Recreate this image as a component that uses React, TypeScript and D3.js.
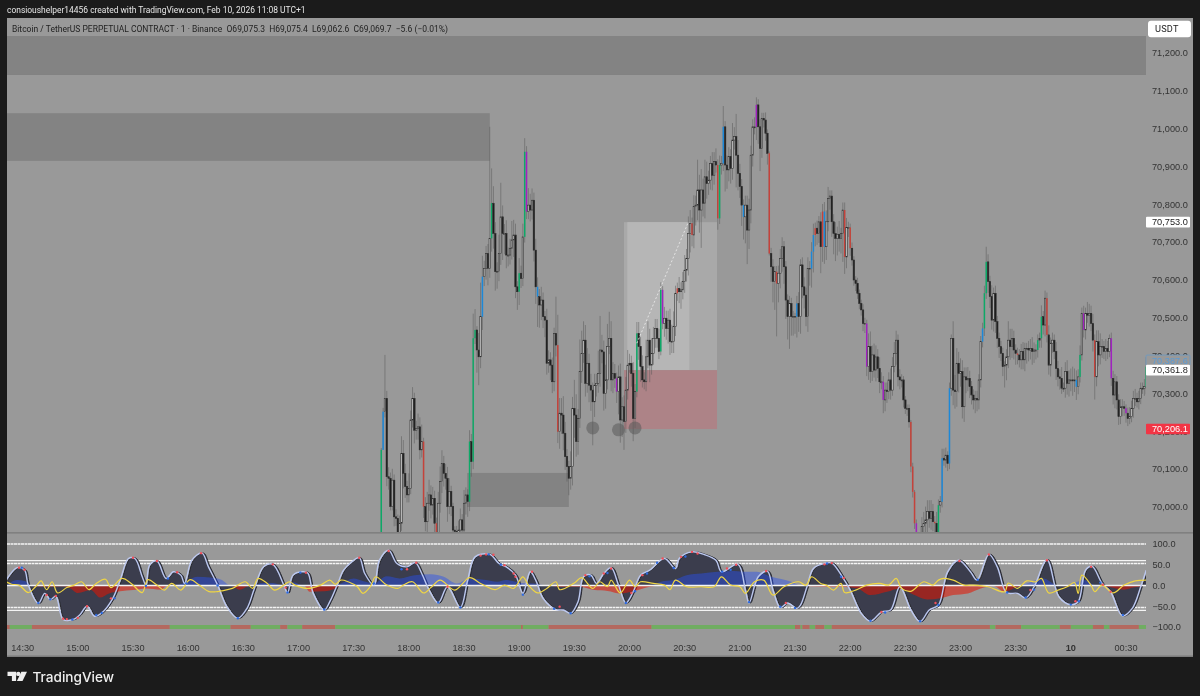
import { area, curveCatmullRom, curveMonotoneX, format, line, scaleLinear } from "d3";

// minutes since 14:30 for the time axis
const timeLabels = ["14:30", "15:00", "15:30", "16:00", "16:30", "17:00", "17:30", "18:00", "18:30", "19:00", "19:30", "20:00", "20:30", "21:00", "21:30", "22:00", "22:30", "23:00", "23:30", "10", "00:30"];
const priceTicks = [70000, 70100, 70200, 70300, 70400, 70500, 70600, 70700, 70800, 70900, 71000, 71100, 71200];
const oscTicks = [100, 50, 0, -50, -100];

const firstCandleTime = 195;
const firstOpen = 69700;
const closes = [
  70151, 70252, 70287, 70080, 70076, 70001, 70071, 69974, 69970, 69930,
  69957, 70142, 70089, 70054, 70032, 70049, 70230, 70287, 70203, 70208,
  70212, 70151, 70173, 70001, 69961, 70010, 70032, 70005, 70023, 69957,
  69930, 70010, 70067, 70115, 70089, 70076, 70001, 70041, 70001, 69939,
  69935, 69930, 69939, 69966, 69939, 70010, 70032, 70014, 70173, 70120,
  70446, 70468, 70415, 70397, 70503, 70609, 70631, 70670, 70631, 70710,
  70803, 70723, 70622, 70622, 70670, 70767, 70723, 70723, 70666, 70666,
  70684, 70706, 70719, 70582, 70569, 70618, 70604, 70714, 70939, 70781,
  70798, 70785, 70811, 70679, 70582, 70556, 70534, 70547, 70503, 70494,
  70380, 70389, 70375, 70331, 70459, 70428, 70199, 70248, 70243, 70195,
  70133, 70107, 70076, 70107, 70261, 70243, 70173, 70234, 70358, 70406,
  70441, 70327, 70380, 70322, 70309, 70278, 70322, 70327, 70353, 70415,
  70410, 70300, 70336, 70424, 70446, 70336, 70353, 70340, 70305, 70344,
  70230, 70265, 70226, 70309, 70375, 70380, 70353, 70234, 70305, 70459,
  70424, 70371, 70336, 70331, 70397, 70441, 70375, 70406, 70446, 70472,
  70446, 70411, 70574, 70485, 70499, 70472, 70494, 70437, 70437, 70477,
  70565, 70578, 70569, 70574, 70596, 70626, 70657, 70723, 70750, 70719,
  70794, 70798, 70838, 70785, 70838, 70803, 70873, 70855, 70864, 70908,
  70877, 70913, 70904, 70763, 70904, 70908, 71005, 70904, 70891, 70926,
  70895, 70970, 70979, 70930, 70882, 70847, 70798, 70767, 70798, 70732,
  70785, 70930, 71005, 71005, 71063, 71005, 70948, 71027, 71023, 70988,
  70935, 70670, 70635, 70596, 70622, 70591, 70618, 70657, 70688, 70635,
  70547, 70503, 70538, 70503, 70503, 70503, 70538, 70503, 70640, 70582,
  70560, 70503, 70630, 70630, 70675, 70719, 70737, 70723, 70754, 70688,
  70781, 70688, 70754, 70816, 70822, 70754, 70723, 70710, 70721, 70710,
  70723, 70785, 70661, 70739, 70739, 70684, 70653, 70600, 70591, 70565,
  70538, 70521, 70485, 70485, 70371, 70424, 70358, 70402, 70362, 70397,
  70366, 70331, 70331, 70283, 70309, 70305, 70336, 70309, 70371, 70406,
  70441, 70344, 70336, 70336, 70283, 70261, 70261, 70225, 70107, 70040,
  69957, 69880, 69850, 69900, 69948, 69957, 69966, 69988, 69970, 69988,
  69961, 69957, 69904, 70005, 70014, 70129, 70124, 70137, 70115, 70314,
  70446, 70309, 70305, 70380, 70353, 70358, 70265, 70344, 70336, 70340,
  70318, 70296, 70283, 70287, 70283, 70336, 70437, 70472, 70565, 70648,
  70596, 70556, 70494, 70565, 70490, 70446, 70424, 70406, 70371, 70375,
  70397, 70441, 70424, 70446, 70415, 70406, 70402, 70389, 70411, 70389,
  70419, 70419, 70415, 70419, 70411, 70415, 70415, 70441, 70446, 70503,
  70481, 70552, 70455, 70375, 70433, 70441, 70411, 70366, 70344, 70340,
  70314, 70314, 70358, 70327, 70336, 70336, 70334, 70336, 70318, 70344,
  70402, 70512, 70468, 70512, 70507, 70512, 70485, 70441, 70344, 70437,
  70402, 70424, 70424, 70411, 70419, 70411, 70446, 70340, 70296, 70331,
  70283, 70239, 70265, 70265, 70261, 70248, 70234, 70239, 70261, 70287,
  70287, 70278, 70287, 70314, 70314, 70318, 70371,
];
const upperWicks = [
  5, 10, 115, 20, 25, 15, 30, 15, 20, 10, 20, 45, 35, 25, 15, 40, 25, 30, 15, 20,
  35, 25, 45, 10, 25, 30, 40, 25, 30, 20, 15, 30, 40, 35, 20, 25, 30, 35, 15, 10,
  10, 15, 25, 30, 15, 35, 20, 15, 30, 20, 65, 55, 10, 45, 90, 55, 20, 20, 25, 295,
  92, 45, 30, 25, 50, 90, 30, 25, 35, 20, 25, 50, 40, 30, 15, 40, 20, 35, 36, 15,
  45, 30, 31, 20, 30, 25, 20, 35, 20, 15, 30, 25, 20, 20, 15, 97, 80, 40, 40, 50,
  30, 20, 15, 40, 30, 75, 55, 25, 85, 60, 50, 40, 40, 25, 30, 20, 30, 25, 60, 90,
  40, 30, 40, 60, 70, 45, 30, 25, 15, 30, 35, 25, 30, 35, 40, 25, 20, 30, 20, 30,
  30, 25, 30, 20, 45, 50, 30, 40, 30, 25, 25, 25, 20, 10, 30, 20, 25, 30, 45, 40,
  20, 15, 30, 20, 25, 40, 25, 45, 35, 15, 30, 25, 80, 40, 55, 30, 45, 40, 25, 20,
  30, 25, 35, 15, 25, 20, 55, 15, 25, 25, 20, 45, 25, 60, 40, 25, 20, 15, 25, 25,
  30, 25, 20, 25, 20, 15, 20, 15, 15, 20, 10, 5, 15, 20, 15, 15, 20, 25, 25, 15,
  15, 15, 20, 15, 15, 10, 20, 30, 15, 20, 25, 20, 30, 20, 25, 30, 15, 20, 15, 25,
  20, 25, 30, 30, 15, 15, 20, 30, 20, 35, 15, 20, 20, 25, 15, 10, 15, 10, 10, 15,
  10, 10, 15, 15, 10, 35, 40, 25, 30, 30, 20, 30, 25, 15, 20, 20, 20, 30, 25, 30,
  25, 15, 20, 15, 10, 10, 10, 10, 5, 10, 5, 10, 10, 25, 25, 30, 35, 30, 30, 30,
  20, 15, 30, 15, 15, 25, 25, 20, 10, 15, 10, 45, 40, 40, 30, 35, 30, 25, 25, 30,
  20, 15, 15, 20, 20, 15, 15, 15, 20, 40, 20, 15, 30, 15, 20, 15, 15, 15, 15, 10,
  20, 50, 30, 25, 20, 15, 15, 15, 20, 25, 15, 15, 20, 25, 30, 20, 15, 15, 15, 30,
  15, 20, 15, 25, 15, 20, 15, 25, 20, 20, 30, 15, 25, 30, 25, 30, 35, 30, 25, 20,
  25, 15, 20, 15, 30, 25, 20, 25, 15, 30, 30, 35, 20, 15, 25, 20, 10, 15, 20, 20,
  15, 15, 20, 20, 15, 10, 15, 25, 20, 20, 25, 15, 20, 15, 15, 20, 25,
];
const lowerWicks = [
  0, 0, 15, 25, 30, 10, 10, 25, 20, 25, 15, 20, 40, 30, 20, 20, 15, 20, 35, 25,
  30, 25, 20, 30, 25, 30, 20, 35, 25, 25, 10, 30, 25, 30, 35, 30, 40, 20, 25, 15,
  15, 10, 20, 25, 20, 15, 30, 40, 25, 40, 20, 15, 60, 75, 30, 35, 25, 30, 45, 25,
  35, 40, 50, 45, 25, 30, 70, 55, 35, 30, 25, 30, 45, 30, 48, 35, 25, 20, 15, 20,
  20, 30, 25, 30, 45, 80, 60, 40, 30, 45, 30, 25, 40, 30, 25, 30, 30, 45, 50, 45,
  35, 40, 45, 30, 50, 60, 40, 35, 25, 30, 25, 35, 25, 45, 55, 115, 40, 30, 25, 35,
  30, 45, 40, 25, 20, 30, 35, 25, 30, 60, 60, 45, 75, 30, 25, 20, 35, 60, 25, 15,
  35, 40, 20, 20, 25, 30, 45, 25, 30, 25, 25, 20, 10, 15, 35, 30, 40, 35, 30, 30,
  25, 20, 30, 45, 25, 30, 30, 45, 50, 30, 35, 50, 40, 60, 100, 35, 40, 40, 30, 25,
  40, 25, 20, 30, 15, 25, 20, 70, 50, 30, 40, 30, 25, 85, 45, 30, 55, 60, 70, 90,
  50, 35, 30, 20, 35, 45, 60, 25, 20, 20, 30, 5, 40, 55, 75, 140, 50, 40, 35, 45,
  50, 60, 85, 50, 50, 45, 55, 40, 45, 30, 35, 25, 40, 45, 50, 55, 30, 30, 25, 70,
  40, 45, 35, 25, 30, 40, 55, 60, 45, 35, 40, 75, 45, 30, 25, 20, 15, 15, 20, 15,
  15, 15, 20, 25, 25, 35, 30, 25, 20, 30, 25, 30, 20, 35, 30, 30, 20, 25, 15, 15,
  30, 25, 25, 20, 20, 15, 20, 15, 15, 15, 15, 40, 40, 30, 25, 30, 25, 40, 25, 30,
  25, 30, 20, 15, 20, 15, 15, 20, 20, 15, 20, 40, 45, 40, 50, 35, 31, 40, 35, 30,
  30, 25, 25, 35, 30, 25, 20, 15, 20, 15, 30, 30, 25, 30, 30, 25, 30, 20, 25, 55,
  40, 30, 35, 30, 25, 30, 25, 20, 25, 25, 30, 40, 30, 25, 35, 30, 25, 20, 20, 25,
  25, 30, 20, 25, 30, 25, 20, 30, 25, 30, 15, 10, 25, 30, 35, 30, 40, 30, 35, 20,
  15, 15, 20, 25, 20, 30, 20, 30, 60, 25, 30, 25, 30, 20, 25, 20, 15, 20, 25, 35,
  25, 22, 20, 25, 20, 25, 20, 15, 15, 25, 20, 15, 20, 15, 15, 20, 20,
];
const greenCandles = [0, 48, 50, 51, 60, 75, 78, 139, 152, 184, 303, 328, 329, 357, 359, 380, 416];
const blueCandles = [1, 55, 85, 186, 197, 226, 234, 235, 241, 305, 309, 327, 378];
const redCandles = [23, 30, 96, 161, 169, 183, 211, 215, 236, 240, 252, 255, 288, 289, 290, 301, 346, 362, 388];
const purpleCandles = [79, 128, 153, 204, 264, 273, 291, 382, 397, 405];

const waveTimes = [-9, -3, 1, 3, 8.5, 12, 15, 18, 22, 27.5, 31, 35, 39, 43, 49, 53, 57.5, 61, 65, 67, 69, 73, 78, 82, 86, 88, 92, 97.5, 101, 106, 111, 117, 122, 126, 131, 136, 142, 144, 147, 152, 155, 158, 164, 167, 171, 174.5, 179, 183, 186, 191, 194, 199, 203.5, 209, 213.5, 217, 221, 226, 231, 238, 242, 246, 254, 259, 263, 268, 272, 276, 279, 283, 290, 294, 298, 302, 305, 309, 312, 316, 320, 324, 328, 332, 336, 341, 349, 355, 357, 364, 370.4, 377, 380, 389, 393, 395, 400, 405, 408, 412, 416, 421, 423, 426.5, 430, 436, 440, 446, 450, 456, 461, 467, 472, 477, 483, 488, 493, 498, 503, 509, 515.4, 519, 525.4, 530, 535, 541, 545.4, 550, 557, 563.5, 570, 574, 578, 581.6, 587, 591.6, 598, 603.4, 608, 611];
const waveValues = [13, 43, 37, 1, -43, -19, -34, -26, -82, -82, -71, -50, -74, -66, -31, 13, 65, 65, 21, 1, 49, 59, 17, 33, 25, 5, 61, 78, 45, 1, -51, -79, -55, -7, 45, 51, 1, -18, 25, 33, 30, -19, -59, -39, 1, 37, 57, 67, 29, 1, 61, 85, 53, 45, 55, 29, -11, -42, -3, -53, 13, 69, 75, 53, 45, 25, -19, 33, 13, -31, -58, -59, -67, -39, 21, 25, 5, 29, 43, 1, -42, -15, 25, 37, 65, 41, 65, 81, 75, 61, 33, 51, -11, -42, 21, 34, -11, -53, -42, -55, -47, -3, 41, 53, 54, 19, -11, -67, -86, -64, -59, -3, -59, -87, -59, -47, 33, 61, 33, 13, 75, 45, -17, -19, -30, -3, 62, -27, -46, -39, 37, 46, 5, -15, -73, -55, -3, 37];

const flowTimes = [-9, -3, 1, 5, 6, 15, 22, 26, 30, 37, 42, 47, 53, 60, 67, 75, 79, 87, 95, 102, 108, 113, 118, 124, 131, 136, 142, 147, 153, 156, 164, 170, 173, 180, 185, 191, 198, 205, 213, 222, 229, 236, 243, 252, 258, 263, 271, 278, 286, 291, 303, 311, 318, 325, 332, 341, 347, 354, 361, 369, 378, 387, 394, 399, 407, 418, 423, 428, 436, 445, 454, 461, 470, 477, 485, 492, 499, 506, 514, 521, 528, 534, 541, 546, 555, 563, 568, 577, 584, 590, 599, 604, 611];
const flowValues = [0, 13, 11, 0, -2, -3, -2, -7, -18, -11, -29, -19, -14, -11, -7, -10, 0, 5, 21, 19, 14, 0, -10, 0, 6, 6, 0, 8, 0, -15, -14, -7, 5, 17, 11, 5, 22, 17, 25, 27, 21, 5, 17, 13, 9, 13, 6, 5, 0, -3, -3, -11, -13, -19, -14, -3, 9, 13, 25, 29, 33, 35, 33, 33, 21, 9, 0, -2, -3, -3, -7, -23, -15, -7, -23, -34, -31, -23, -19, -7, -1, -15, -3, 5, 17, 0, -2, 13, 0, -3, -10, -5, 0];

const momentumTimes = [-9, -6, -2, 3, 7, 10, 13, 16, 19, 24, 28, 32, 36, 40, 45, 48, 54, 59, 65, 68, 73, 77, 81, 86, 91, 96, 101, 105, 108, 114, 121, 125, 128, 133, 137, 142, 145, 148, 155, 162, 167, 170, 173, 177, 182, 185, 189, 192, 198, 204, 207, 212, 218, 222, 227, 235, 243, 249, 257, 262, 267, 272, 275, 280, 285, 290, 292, 300, 304, 310, 314, 318, 320, 325, 330, 333, 336, 343, 349, 352, 355, 361, 369, 376, 380, 385, 390, 393, 398, 403, 408, 414, 422, 426, 429, 434, 437, 441, 445, 447, 453, 459, 466, 471, 475, 478, 483, 490, 495, 498, 501, 506, 512, 517, 525, 534, 536, 541, 546, 551, 554, 558, 563, 568, 572, 574, 576, 581, 583, 587, 593, 599, 605, 611];
const momentumValues = [9, 3, 1, -17, -3, 11, -10, 9, -18, -5, 1, 9, -10, 5, 15, -5, 17, 5, -17, 14, 1, -11, 5, -11, 14, 1, -14, -15, -13, -7, 9, -7, 17, 5, -11, 1, 9, 1, -7, 1, 13, 3, 13, 9, -3, -19, -3, 21, 1, -7, 1, 9, -18, -5, 13, -11, 19, 5, -10, 1, -7, 21, 1, -18, -7, 9, -10, 6, 19, -7, 9, -3, 13, -18, 13, -3, 9, 5, 1, -10, 13, -3, -3, -3, 21, 1, -3, -19, 9, 13, -23, -3, 9, 1, 21, 5, 1, -11, 5, -17, -11, 1, 5, 1, 17, -7, -14, 9, 1, 13, 17, 13, 1, 1, -3, -15, 6, -7, 11, 9, 17, -18, -11, -3, 7, -19, 25, 1, -15, 1, -18, 1, 11, 13];

const redDotTimes = [-2, 1, 13, 18, 22, 24, 30, 35, 48, 60, 73, 84, 97, 136, 143, 154, 183, 199, 209, 214, 231, 249, 252, 256, 262, 267, 268, 277, 292, 306, 316, 320, 331, 337, 348, 358, 364, 367, 383, 388, 404.3, 415, 436, 440, 446.5, 467, 496.4, 509.4, 525.4, 548, 557, 572.5, 581, 587.4, 591.6];
const redDotValues = [43, 38, -23, -25, -80, -81, -78, -50, -31, 67, 59, 32, 78, 51, -5, 31, 67, 83, 39, 55, -3, 72, 75, 74, 49, 29, 21, 33, -51, 25, 29, 41, -18, 25, 65, 69, 81, 77, 41, 50, 35, -42, 51, 54, 18, -64, -42, 59, 75, -11, 61, -38, 45, 2, -15];
const blueDotTimes = [-0.5, 8.5, 15, 27, 40, 43, 50, 67, 79, 89, 106, 117, 144, 151, 164, 191, 206, 226, 238, 253.4, 260, 272, 289, 298, 308.3, 318, 328, 333, 339.5, 345, 354, 360.4, 380.4, 385, 395, 412, 420, 437.4, 445, 461, 469, 488, 498, 519.4, 535.4, 545.4, 550, 570, 574.4, 586, 598.3];
const blueDotValues = [43, -42, -33, -82, -71, -66, -31, -1, 17, 5, 0, -79, -17, 31, -58, 5, 39, -41, -53, 75, 50, -22, -56, -67, 22, 30, -42, -14, 29, 55, 42, 70, 33, 38, -40, -51, -54, 53, 21, -85, -65, -86, -47, 14, -17, -29, -10, -46, -38, 7, -71];

// alternating red / green run ends along the -100 line
const stateRunEnds = [-7, 5, 80, 113, 124, 140, 144, 152, 170, 271, 272, 286, 342, 420, 423, 424, 428, 431, 436, 440, 526, 529, 543, 564, 570, 582, 588, 591, 607, 611];

const width = 1200;
const height = 696;
const chartLeft = 7;
const chartRight = 1193;
const axisLeft = 1146;
const pricePaneBottom = 532;

const x = scaleLinear().domain([0, 600]).range([22.7, 1126]);
const y = scaleLinear().domain([70000, 71000]).range([507, 128.7]);
const oscY = scaleLinear().domain([-100, 100]).range([627, 544]);
const startTime = x.invert(chartLeft);
const fmtPrice = format(",.1f");

const uiFont = "'Liberation Sans', Arial, sans-serif";

function candleColor(index: number) {
  if (greenCandles.includes(index)) return "#0fa968";
  if (blueCandles.includes(index)) return "#1e88d8";
  if (redCandles.includes(index)) return "#c5423a";
  if (purpleCandles.includes(index)) return "#a020c0";
  return null;
}

function Candles() {
  const bodyWidth = 1.5;
  return (
    <g clipPath="url(#price-clip)">
      {closes.map((close, index) => {
        const open = index === 0 ? firstOpen : closes[index - 1];
        const top = Math.max(open, close);
        const bottom = Math.min(open, close);
        const cx = x(firstCandleTime + index);
        const color = candleColor(index);
        const isUp = close >= open;
        return (
          <g key={index}>
            <line
              x1={cx}
              x2={cx}
              y1={y(top + upperWicks[index])}
              y2={y(bottom - lowerWicks[index])}
              stroke="#555"
              strokeOpacity={0.6}
              strokeWidth={0.8}
            />
            <rect
              x={cx - bodyWidth / 2}
              y={y(top)}
              width={bodyWidth}
              height={Math.max(1, y(bottom) - y(top))}
              fill={color ?? (isUp ? "#bdbdbd" : "#1f1f1f")}
              stroke={color ? "none" : "#2c2c2c"}
              strokeWidth={0.55}
            />
          </g>
        );
      })}
    </g>
  );
}

function PriceDrawings() {
  return (
    <g>
      <rect x={chartLeft} y={y(71245)} width={axisLeft - chartLeft} height={y(71142) - y(71245)} fill="#838383" />
      <rect x={chartLeft} y={y(71041)} width={x(254) - chartLeft} height={y(70915) - y(71041)} fill="#838383" />
      <rect x={x(241.7)} y={y(70090)} width={x(297) - x(241.7)} height={y(70000) - y(70090)} fill="#838383" />
      <rect x={x(327)} y={y(70753)} width={x(377.6) - x(327)} height={y(70361.8) - y(70753)} fill="#a9a9a9" />
      <rect x={x(328.8)} y={y(70753)} width={x(362.5) - x(328.8)} height={y(70361.8) - y(70753)} fill="#b6b6b6" />
      <rect x={x(327)} y={y(70361.8)} width={x(377.6) - x(327)} height={y(70206.1) - y(70361.8)} fill="#ad8387" />
    </g>
  );
}

function PriceOverlays() {
  return (
    <g>
      <line x1={x(334)} y1={y(70433)} x2={x(362)} y2={y(70753)} stroke="#e8e8e8" strokeWidth={0.9} strokeDasharray="2 2" />
      {[[310, 70209], [324, 70204], [333, 70209]].map(([t, price]) => (
        <circle key={t} cx={x(t)} cy={y(price)} r={6.5} fill="#5a5a5a" fillOpacity={0.55} />
      ))}
    </g>
  );
}

function PriceAxis() {
  const boxes = [
    { price: 70753, fill: "#ffffff", stroke: "none", text: "#222" },
    { price: 70387.6, fill: "#999999", stroke: "#5b9bd5", text: "#5b9bd5" },
    { price: 70361.8, fill: "#ffffff", stroke: "none", text: "#222" },
    { price: 70206.1, fill: "#f23645", stroke: "none", text: "#ffffff" },
  ];
  return (
    <g fontFamily={uiFont} fontSize={9.2}>
      {priceTicks.map((tick) => (
        <text key={tick} x={1152} y={y(tick) + 3.3} fill="#333">
          {fmtPrice(tick)}
        </text>
      ))}
      {boxes.map((box) => (
        <g key={box.price}>
          <rect x={axisLeft} y={y(box.price) - 5.3} width={44} height={10.6} fill={box.fill} stroke={box.stroke} strokeWidth={0.6} rx={1} />
          <text x={1152} y={y(box.price) + 3.3} fill={box.text}>
            {fmtPrice(box.price)}
          </text>
        </g>
      ))}
      <rect x={1148} y={20.7} width={43} height={16.6} rx={3} fill="#ffffff" />
      <text x={1155} y={32.2} fill="#222" fontFamily="Roboto, sans-serif" fontSize={9.2} letterSpacing={0.2}>
        USDT
      </text>
    </g>
  );
}

function Oscillator() {
  const wave = waveTimes.map((t, i) => ({ t, v: waveValues[i] }));
  const flow = flowTimes.map((t, i) => ({ t, v: flowValues[i] }));
  const momentum = momentumTimes.map((t, i) => ({ t, v: momentumValues[i] }));
  const waveArea = area<{ t: number; v: number }>()
    .x((d) => x(d.t))
    .y0(oscY(0))
    .y1((d) => oscY(d.v))
    .curve(curveCatmullRom);
  const waveLine = line<{ t: number; v: number }>()
    .x((d) => x(d.t))
    .y((d) => oscY(d.v))
    .curve(curveCatmullRom);
  const flowUp = area<{ t: number; v: number }>()
    .x((d) => x(d.t))
    .y0(oscY(0))
    .y1((d) => oscY(Math.max(0, d.v)))
    .curve(curveMonotoneX);
  const flowDown = area<{ t: number; v: number }>()
    .x((d) => x(d.t))
    .y0(oscY(0))
    .y1((d) => oscY(Math.min(0, d.v)))
    .curve(curveMonotoneX);

  const levelLine = (value: number, dashed: boolean) => (
    <line
      key={value}
      x1={chartLeft}
      x2={1146}
      y1={oscY(value)}
      y2={oscY(value)}
      stroke="#f4f4f4"
      strokeWidth={1.4}
      strokeDasharray={dashed ? "3 0.5" : undefined}
    />
  );

  return (
    <g clipPath="url(#osc-clip)">
      {levelLine(100, true)}
      {levelLine(60, false)}
      {levelLine(53, true)}
      {levelLine(-53, true)}
      {levelLine(-60, false)}
      <path d={waveArea(wave) ?? ""} transform="translate(1.6,0)" fill="#3a3d4d" stroke="#26272f" strokeWidth={1} />
      <path d={flowUp(flow) ?? ""} fill="rgb(40,80,240)" fillOpacity={0.45} />
      <path d={flowDown(flow) ?? ""} fill="rgb(230,20,0)" fillOpacity={0.55} />
      {levelLine(0, false)}
      <path d={waveLine(wave) ?? ""} fill="none" stroke="#bcc8f0" strokeWidth={1.4} />
      <path d={waveLine(momentum) ?? ""} fill="none" stroke="#efd544" strokeWidth={1.2} />
      {redDotTimes.map((t, i) => (
        <circle key={`r-${t}`} cx={x(t)} cy={oscY(redDotValues[i])} r={1.2} fill="#f2515a" />
      ))}
      {blueDotTimes.map((t, i) => (
        <circle key={`b-${t}`} cx={x(t)} cy={oscY(blueDotValues[i])} r={1.2} fill="#2f6be0" />
      ))}
      {stateRunEnds.map((end, i) => {
        const start = i === 0 ? startTime : stateRunEnds[i - 1];
        return (
          <rect
            key={end}
            x={x(start)}
            y={oscY(-100) - 2}
            width={x(end) - x(start)}
            height={4}
            fill={i % 2 === 0 ? "#b4695f" : "#70ad62"}
          />
        );
      })}
    </g>
  );
}

export default function App() {
  return (
    <svg
      width={width}
      height={height}
      viewBox={`0 0 ${width} ${height}`}
      style={{ position: "absolute", left: 0, top: 0, display: "block" }}
    >
      <defs>
        <clipPath id="price-clip">
          <rect x={chartLeft} y={18} width={axisLeft - chartLeft} height={pricePaneBottom - 18} />
        </clipPath>
        <clipPath id="osc-clip">
          <rect x={chartLeft} y={pricePaneBottom + 2} width={axisLeft - chartLeft} height={105} />
        </clipPath>
        <filter id="soften" x="0" y="0" width="100%" height="100%">
          <feGaussianBlur stdDeviation={0.35} />
        </filter>
      </defs>
      <rect width={width} height={height} fill="#1b1b1b" />
      <g filter="url(#soften)">
        <text x={7} y={13.2} fontFamily="Roboto, sans-serif" fontSize={8.45} fill="#e6e6e6">
          consioushelper14456 created with TradingView.com, Feb 10, 2026 11:08 UTC+1
        </text>
        <rect x={chartLeft} y={18} width={chartRight - chartLeft} height={639} fill="#999999" />

        <PriceDrawings />
        <Candles />
        <PriceOverlays />
        <text x={12} y={31.8} fontFamily="Roboto, sans-serif" fontSize={8.5} fill="#222" xmlSpace="preserve">
          Bitcoin / TetherUS PERPETUAL CONTRACT · 1 · Binance  O69,075.3  H69,075.4  L69,062.6  C69,069.7  −5.6 (−0.01%)
        </text>
        <rect x={chartLeft} y={pricePaneBottom} width={chartRight - chartLeft} height={1.6} fill="#808080" />
        <PriceAxis />
        <Oscillator />
        <g fontFamily={uiFont} fontSize={9.2} fill="#333">
          {oscTicks.map((tick) => (
            <text key={tick} x={1152.5} y={oscY(tick) + 3.3}>
              {format(".1f")(tick).replace("-", "−")}
            </text>
          ))}
          {timeLabels.map((label, i) => (
            <text key={label} x={x(i * 30)} y={651} textAnchor="middle" fontWeight={label === "10" ? 700 : 400}>
              {label}
            </text>
          ))}
        </g>
        <rect x={chartLeft} y={655.5} width={chartRight - chartLeft} height={1.5} fill="#7d7d7d" />

        <g fill="#eeeeee">
          <path d="M7.5 671.7h8.6v9.4h-4.2v-5.2h-4.4z" />
          <circle cx={18.3} cy={673.9} r={2.2} />
          <path d="M21.4 671.7h5.6l-4.5 9.4h-5.6z" />
        </g>
        <text x={32.5} y={681.5} fontFamily="Inter, Roboto, sans-serif" fontWeight={500} fontSize={13.6} fill="#eeeeee">
          TradingView
        </text>
      </g>
    </svg>
  );
}
